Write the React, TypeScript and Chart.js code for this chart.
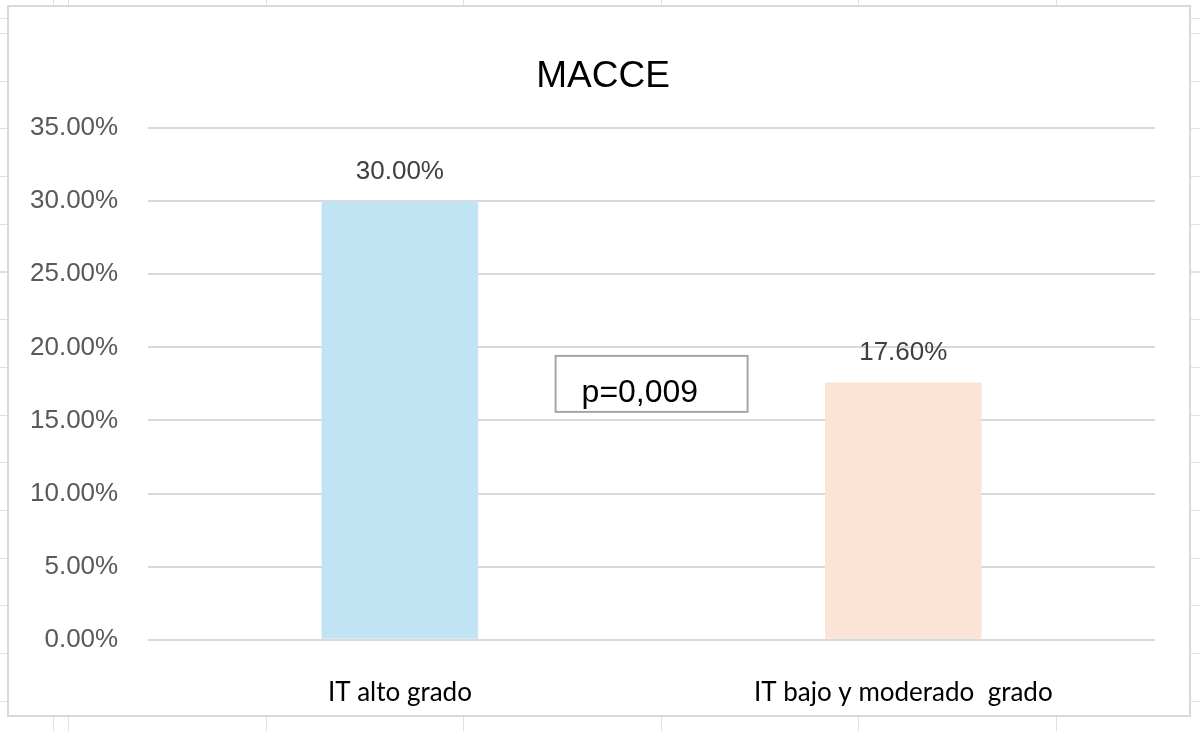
import React, { useEffect, useRef } from "react";
import { Chart, registerables, Plugin } from "chart.js";

Chart.register(...registerables);

const chartTitle = "MACCE";
const categories = ["IT alto grado", "IT bajo y moderado  grado"];
const values = [0.3, 0.176];
const barColors = ["#C1E4F5", "#FBE3D6"];
const pValueText = "p=0,009";
const pValueLevel = 0.175; // vertical centre of the p box, in axis units

const formatPct = (v: number) => (v * 100).toFixed(2) + "%";

// white chart frame over the spreadsheet, plus the title centred on the frame
const framePlugin: Plugin<"bar"> = {
  id: "frame",
  beforeDraw(chart) {
    const ctx = chart.ctx;
    ctx.save();
    ctx.fillStyle = "#ffffff";
    ctx.fillRect(8, 6, 1182, 710);
    ctx.strokeStyle = "#D9D9D9";
    ctx.lineWidth = 2;
    ctx.strokeRect(8, 6, 1182, 710);
    ctx.font = "37px 'Liberation Sans', Arial, sans-serif";
    ctx.fillStyle = "#000000";
    ctx.textAlign = "center";
    ctx.textBaseline = "alphabetic";
    ctx.fillText(chartTitle, 603, 87);
    ctx.restore();
  },
};

// value labels above the bars
const labelPlugin: Plugin<"bar"> = {
  id: "barLabels",
  afterDatasetsDraw(chart) {
    const ctx = chart.ctx;
    const meta = chart.getDatasetMeta(0);
    ctx.save();
    ctx.font = "26px 'Liberation Sans', Arial, sans-serif";
    ctx.fillStyle = "#404040";
    ctx.textAlign = "center";
    ctx.textBaseline = "alphabetic";
    meta.data.forEach((bar: any, i) => {
      ctx.fillText(formatPct(values[i]), bar.x, bar.y - 22);
    });
    ctx.restore();
  },
};

// p-value text box between the bars
const pBoxPlugin: Plugin<"bar"> = {
  id: "pBox",
  afterDatasetsDraw(chart) {
    const ctx = chart.ctx;
    const cx = chart.scales.x.getPixelForValue(0.5);
    const cy = chart.scales.y.getPixelForValue(pValueLevel);
    const w = 192;
    const h = 56;
    ctx.save();
    ctx.fillStyle = "#ffffff";
    ctx.fillRect(cx - w / 2, cy - h / 2, w, h);
    ctx.strokeStyle = "#A6A6A6";
    ctx.lineWidth = 2;
    ctx.strokeRect(cx - w / 2, cy - h / 2, w, h);
    ctx.font = "32px 'Liberation Sans', Arial, sans-serif";
    ctx.fillStyle = "#000000";
    ctx.textAlign = "left";
    ctx.textBaseline = "alphabetic";
    ctx.fillText(pValueText, cx - w / 2 + 26, cy + 18);
    ctx.restore();
  },
};

const App: React.FC = () => {
  const canvasRef = useRef<HTMLCanvasElement | null>(null);

  useEffect(() => {
    if (!canvasRef.current) return;
    const chart = new Chart(canvasRef.current, {
      type: "bar",
      data: {
        labels: categories,
        datasets: [
          {
            data: values,
            backgroundColor: barColors,
            borderWidth: 0,
            barPercentage: 0.311,
            categoryPercentage: 1,
          },
        ],
      },
      options: {
        animation: false,
        responsive: true,
        maintainAspectRatio: false,
        layout: { padding: { left: 0, right: 45, top: 128, bottom: -14 } },
        plugins: {
          legend: { display: false },
          tooltip: { enabled: false },
          title: { display: false },
        },
        scales: {
          x: {
            grid: { display: false, drawTicks: false },
            border: { display: false },
            ticks: {
              color: "#000000",
              padding: 37,
              font: { family: "Lato, 'Open Sans', sans-serif", size: 26 },
            },
          },
          y: {
            min: 0,
            max: 0.35,
            grid: { color: "#D9D9D9", lineWidth: 2, drawTicks: false },
            border: { display: false },
            ticks: {
              stepSize: 0.05,
              color: "#595959",
              padding: 30,
              font: { family: "'Liberation Sans', Arial, sans-serif", size: 26 },
              callback: (v) => formatPct(Number(v)),
            },
          },
        },
      },
      plugins: [framePlugin, labelPlugin, pBoxPlugin],
    });
    return () => chart.destroy();
  }, []);

  return (
    <div
      style={{
        position: "fixed",
        left: 0,
        top: 0,
        width: 1200,
        height: 731,
        backgroundColor: "#ffffff",
        backgroundImage:
          "repeating-linear-gradient(90deg, #E1E1E1 0px, #E1E1E1 1px, transparent 1px, transparent 197.5px)," +
          "repeating-linear-gradient(180deg, #E1E1E1 0px, #E1E1E1 1px, transparent 1px, transparent 47.7px)",
        backgroundPosition: "68px 0px, 0px 33px",
      }}
    >
      <canvas ref={canvasRef}></canvas>
    </div>
  );
};

export default App;
